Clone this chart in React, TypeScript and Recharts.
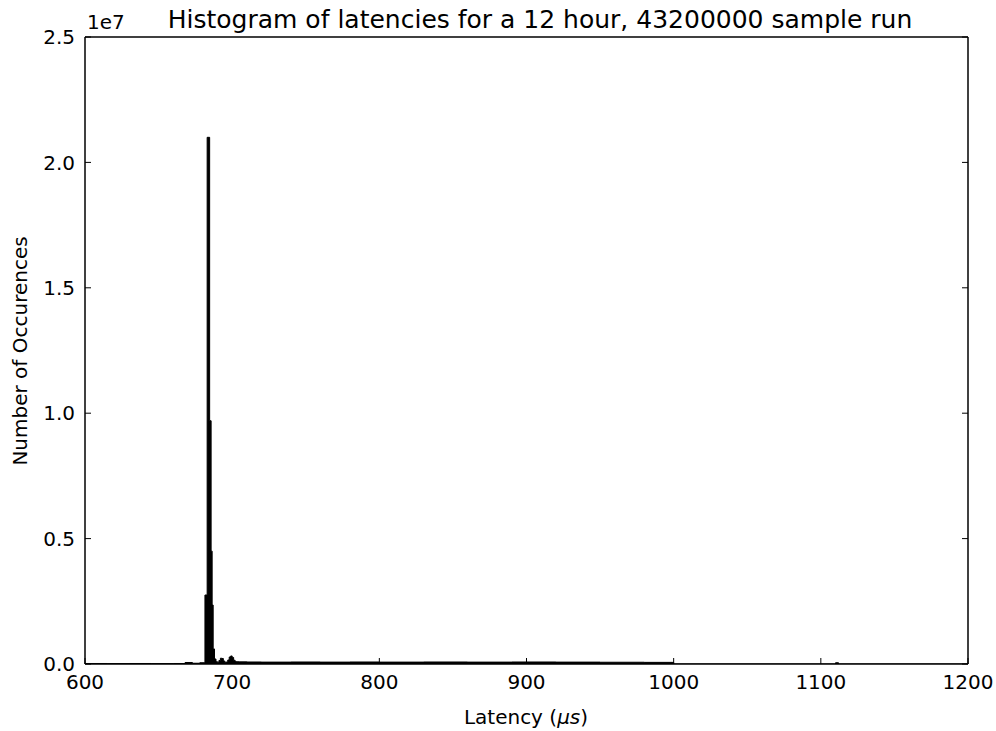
import { Area, ComposedChart, XAxis, YAxis } from "recharts";

// histogram bins: left edge of each bin (µs) and its count; a bin lasts until the next edge
const binStart = [
  600, 615, 630, 645, 660, 668, 673, 678,
  681.5, 683, 684.7, 685.7, 686.4, 687.1, 688, 689, 690, 691, 692, 693, 694, 695,
  696, 697, 698, 699, 700, 701, 702, 703, 705, 710, 720, 740, 760, 780,
  800, 830, 860, 890, 920, 950, 980, 1000, 1110, 1112, 1200,
];
const occurrences = [
  20000, 15000, 20000, 15000, 20000, 60000, 30000, 50000,
  2750000, 21000000, 9700000, 4500000, 2350000, 600000, 200000, 90000, 70000, 140000, 230000, 220000, 120000, 70000,
  80000, 160000, 280000, 320000, 260000, 150000, 100000, 90000, 85000, 80000, 75000, 80000, 75000, 80000,
  75000, 80000, 75000, 80000, 75000, 70000, 65000, 0, 50000, 0, 0,
];

const xTicks = [600, 700, 800, 900, 1000, 1100, 1200];
const yTicks = [0, 5000000, 10000000, 15000000, 20000000, 25000000];

const data = binStart.map((latency, i) => ({ latency, count: occurrences[i] }));

const font = "DejaVu Sans";
const tickStyle = { fill: "#000", fontSize: 20, fontFamily: font };

export default function App() {
  return (
    <div style={{ position: "absolute", left: 0, top: 0, width: 996, height: 731, background: "#fff" }}>
      <div
        style={{
          position: "absolute",
          left: 540,
          top: 7,
          transform: "translateX(-50%)",
          whiteSpace: "nowrap",
          fontFamily: font,
          fontSize: 25,
          lineHeight: "25px",
          color: "#000",
        }}
      >
        Histogram of latencies for a 12 hour, 43200000 sample run
      </div>
      <div
        style={{
          position: "absolute",
          left: 87,
          top: 12,
          fontFamily: font,
          fontSize: 20,
          lineHeight: "20px",
          color: "#000",
        }}
      >
        1e7
      </div>
      <ComposedChart
        width={996}
        height={731}
        data={data}
        margin={{ top: 27, right: 18, bottom: 37, left: 25 }}
      >
        <XAxis
          dataKey="latency"
          type="number"
          domain={[600, 1200]}
          ticks={xTicks}
          allowDataOverflow
          height={30}
          tickSize={-6}
          tickMargin={17}
          tick={tickStyle}
          axisLine={{ stroke: "#000", strokeWidth: 1.5 }}
          tickLine={{ stroke: "#000" }}
          label={{
            content: () => (
              <text x={526} y={724} textAnchor="middle" fontFamily={font} fontSize={20} fill="#000">
                Latency (<tspan fontStyle="italic">μs</tspan>)
              </text>
            ),
          }}
        />
        <XAxis
          xAxisId="top"
          orientation="top"
          type="number"
          domain={[600, 1200]}
          ticks={xTicks}
          allowDataOverflow
          height={10}
          tickSize={-6}
          tickFormatter={() => ""}
          axisLine={{ stroke: "#000", strokeWidth: 1.5 }}
          tickLine={{ stroke: "#000" }}
        />
        <YAxis
          type="number"
          domain={[0, 25000000]}
          ticks={yTicks}
          allowDataOverflow
          width={60}
          tickSize={-6}
          tickMargin={16}
          tick={tickStyle}
          tickFormatter={(v: number) => (v / 10000000).toFixed(1)}
          axisLine={{ stroke: "#000", strokeWidth: 1.5 }}
          tickLine={{ stroke: "#000" }}
          label={{
            content: () => (
              <text
                x={27}
                y={351}
                transform="rotate(-90 27 351)"
                textAnchor="middle"
                fontFamily={font}
                fontSize={20}
                fill="#000"
              >
                Number of Occurences
              </text>
            ),
          }}
        />
        <YAxis
          yAxisId="right"
          orientation="right"
          type="number"
          domain={[0, 25000000]}
          ticks={yTicks}
          allowDataOverflow
          width={10}
          tickSize={-6}
          tickFormatter={() => ""}
          axisLine={{ stroke: "#000", strokeWidth: 1.5 }}
          tickLine={{ stroke: "#000" }}
        />
        <Area
          dataKey="count"
          type="stepAfter"
          stroke="#000"
          strokeWidth={1}
          fill="#000"
          fillOpacity={1}
          dot={false}
          activeDot={false}
          isAnimationActive={false}
        />
      </ComposedChart>
    </div>
  );
}
